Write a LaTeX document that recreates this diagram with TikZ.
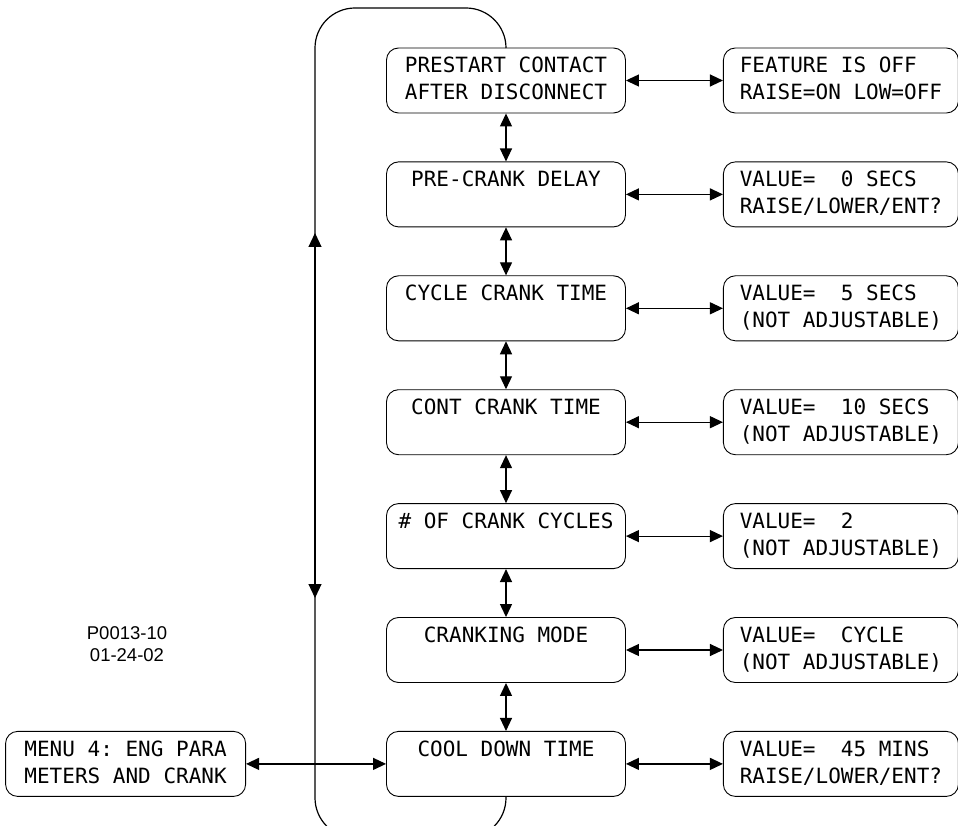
\documentclass[tikz,border=0pt]{standalone}
\usepackage{fontspec}
\setmainfont{Liberation Sans}
\setmonofont{DejaVu Sans Mono}
\usetikzlibrary{arrows.meta,positioning,calc}
\newcommand{\lcd}[2]{\rule[-4pt]{0pt}{20pt}#1\\\rule[-4pt]{0pt}{20pt}#2}
\tikzset{
  screen/.style={draw,rounded corners=12pt,line width=0.9pt,minimum width=239pt,minimum height=65pt,inner xsep=2pt,inner ysep=2pt,align=center,font=\ttfamily\fontsize{21}{27}\selectfont},
  valuebox/.style={screen,minimum width=235pt,align=left},
  link/.style={{Triangle[length=13pt,width=12pt]}-{Triangle[length=13pt,width=12pt]},line width=1.2pt},
  loopline/.style={line width=1.2pt,rounded corners=40pt},
  looptip/.style={-{Triangle[length=14pt,width=13pt]},line width=1.2pt}
}
\begin{document}
\begin{tikzpicture}[x=1pt,y=1pt,node distance=48pt and 97pt]
\useasboundingbox (0,0) rectangle (958,-826);
\clip (0,0) rectangle (958,-826);
% menu column
\node[screen] (prestart) at (506,-80.5) {\lcd{PRESTART CONTACT}{AFTER DISCONNECT}};
\node[screen,below=of prestart] (precrank) {\lcd{PRE-CRANK DELAY}{}};
\node[screen,below=of precrank] (cycle) {\lcd{CYCLE CRANK TIME}{}};
\node[screen,below=of cycle] (cont) {\lcd{CONT CRANK TIME}{}};
\node[screen,below=of cont] (cycles) {\lcd{\# OF CRANK CYCLES}{}};
\node[screen,below=of cycles] (mode) {\lcd{CRANKING MODE}{}};
\node[screen,below=of mode] (cool) {\lcd{COOL DOWN TIME}{}};
% values
\node[valuebox,right=of prestart] (vprestart) {\lcd{FEATURE IS OFF}{RAISE=ON LOW=OFF}};
\node[valuebox,right=of precrank] (vprecrank) {\lcd{VALUE=~~0 SECS}{RAISE/LOWER/ENT?}};
\node[valuebox,right=of cycle] (vcycle) {\lcd{VALUE=~~5 SECS}{(NOT ADJUSTABLE)}};
\node[valuebox,right=of cont] (vcont) {\lcd{VALUE=~~10 SECS}{(NOT ADJUSTABLE)}};
\node[valuebox,right=of cycles] (vcycles) {\lcd{VALUE=~~2}{(NOT ADJUSTABLE)}};
\node[valuebox,right=of mode] (vmode) {\lcd{VALUE=~~CYCLE}{(NOT ADJUSTABLE)}};
\node[valuebox,right=of cool] (vcool) {\lcd{VALUE=~~45 MINS}{RAISE/LOWER/ENT?}};
% entry
\node[screen,minimum width=240pt,left=140pt of cool] (menu) {\lcd{MENU 4: ENG PARA}{METERS AND CRANK}};
\node[font=\fontsize{18.5}{22}\selectfont,align=center] (ref) at (127,-644) {P0013-10\\01-24-02};
\draw[link] (menu) -- (cool);
\foreach \a/\b in {prestart/precrank,precrank/cycle,cycle/cont,cont/cycles,cycles/mode,mode/cool}
  \draw[link] (\a) -- (\b);
\foreach \a in {prestart,precrank,cycle,cont,cycles,mode,cool}
  \draw[link] (\a) -- (v\a);
% loop back
\coordinate (loopTL) at (315,-8);
\coordinate (loopMid) at (315,-415);
\coordinate (upTip) at (315,-233);
\coordinate (downTip) at (315,-598);
\draw[loopline] (prestart.north) |- (loopTL) |- ($(cool.south)+(0,-41)$) -- (cool.south);
\draw[looptip] (loopMid) -- (upTip);
\draw[looptip] (loopMid) -- (downTip);
\end{tikzpicture}
\end{document}
